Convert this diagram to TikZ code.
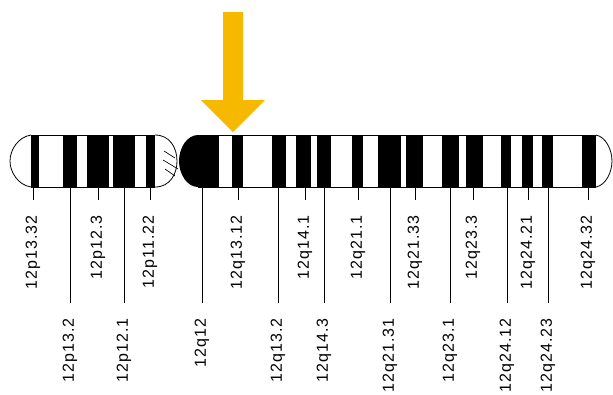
\documentclass[tikz,border=0pt]{standalone}
\usepackage{fontspec}
\setmainfont{Liberation Sans}
\newfontfamily\bandfont{Liberation Sans}[LetterSpace=7]
\usepackage{tikz}

\definecolor{marker}{RGB}{247,184,0}

\begin{document}
\begin{tikzpicture}[
    x=0.75pt, y=-0.75pt,
    outline/.style={draw, line width=0.6pt},
    tick/.style={draw, line width=0.75pt, shorten >=11.5pt},
    lbl/.style={rotate=90, anchor=east, inner sep=0pt, font=\bandfont\fontsize{12}{12}\selectfont}
]
\useasboundingbox (0,0) rectangle (613,394);

% dark bands of both arms
\foreach \a/\b in {31/39, 63/77, 87/109, 113/135, 146/155,
                   198/219, 232/243, 272/286, 296/311, 317/331, 352/363, 378/401,
                   406/423, 442/459, 466/483, 501/511, 522/533, 542/553, 582/596}
  \fill (\a,135) rectangle (\b,187);

% centromere
\fill (198,135) .. controls (187,135) and (179,148) .. (179,161)
      .. controls (179,174) and (187,187) .. (198,187) -- cycle;
\draw[outline] (155,135) .. controls (170,135) and (177,148) .. (177,161)
      .. controls (177,174) and (170,187) .. (155,187);
\draw[line width=0.5pt] (164,151) -- (175,158) (163,160) -- (178,169) (165,169) -- (175,176);

% outline and telomere caps
\draw[outline] (31,135) -- (155,135) (31,187) -- (155,187);
\draw[outline] (198,135) -- (596,135) (198,187) -- (596,187);
\draw[outline] (31,135) .. controls (18,137) and (10,150) .. (10,161)
      .. controls (10,172) and (18,185) .. (31,187);
\draw[outline] (596,135) .. controls (606,137) and (612,150) .. (612,161)
      .. controls (612,172) and (606,185) .. (596,187);

% upper labels
\foreach \x/\t [count=\i] in {33/12p13.32, 98/12p12.3, 150/12p11.22, 238/12q13.12, 305/12q14.1,
                              358/12q21.1, 415/12q21.33, 473/12q23.3, 528/12q24.21, 588/12q24.32} {
  \coordinate (tu\i) at (\x,187);
  \node[lbl] (up\i) at (\x,215) {\t};
  \draw[tick] (tu\i) -- (up\i);
}

% lower labels
\foreach \x/\t [count=\i] in {70/12p13.2, 124/12p12.1, 202/12q12, 278/12q13.2, 324/12q14.3,
                              390/12q21.31, 450/12q23.1, 507/12q24.12, 548/12q24.23} {
  \coordinate (tl\i) at (\x,187);
  \node[lbl] (lo\i) at (\x,318) {\t};
  \draw[tick] (tl\i) -- (lo\i);
}

% marker arrow
\fill[marker] (223,12) -- (243,12) -- (243,100) -- (265,100) -- (233,132)
      -- (201,100) -- (223,100) -- cycle;
\end{tikzpicture}
\end{document}
